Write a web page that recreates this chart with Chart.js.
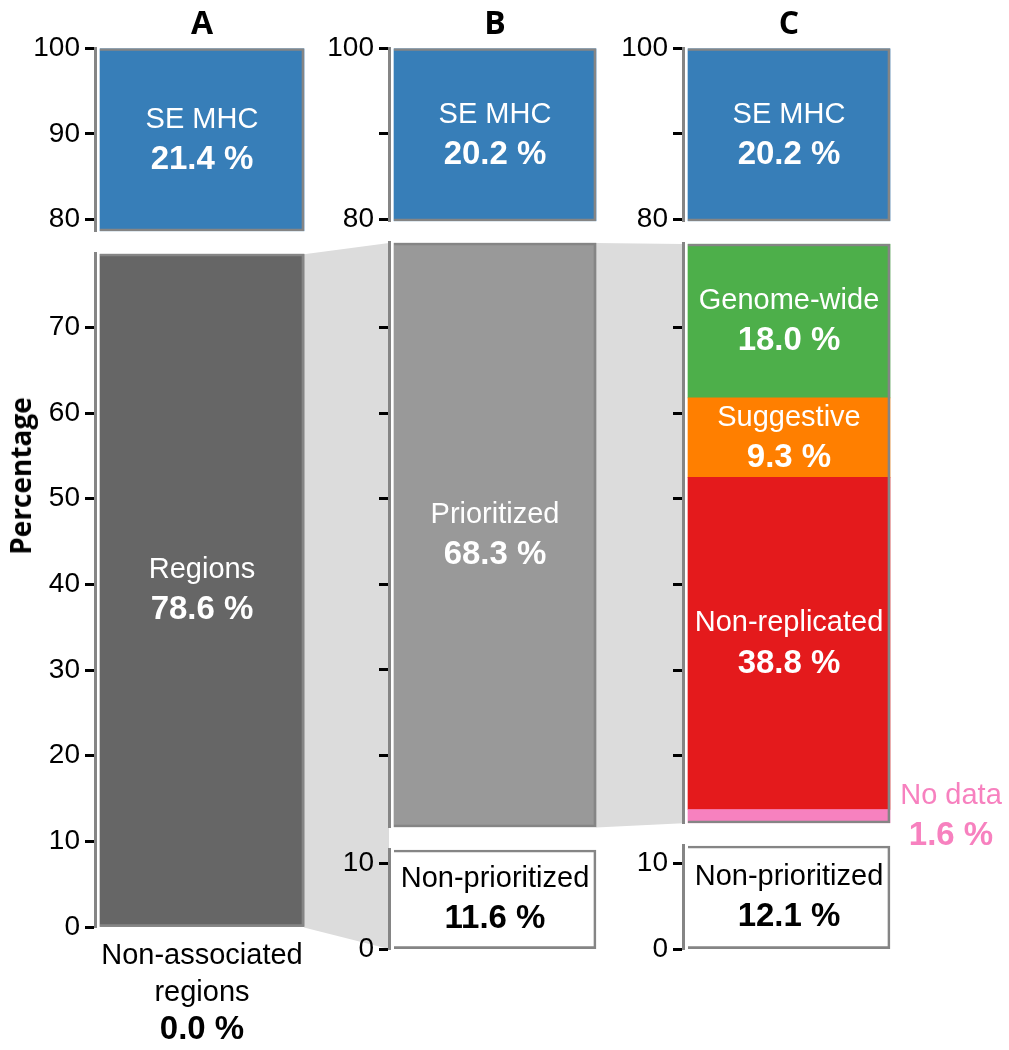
<!DOCTYPE html>
<html>
<head>
<meta charset="utf-8">
<script src="https://cdn.jsdelivr.net/npm/chart.js@4.4.1/dist/chart.umd.min.js"></script>
<style>
  html, body { margin: 0; padding: 0; background: #fff; }
  #stage { position: relative; width: 1009px; height: 1050px; overflow: hidden; }
  #stage canvas { position: absolute; }
  #links { left: 0; top: 0; z-index: 0; }
  .panel { z-index: 1; }
  #ylabel {
    position: absolute; left: 20px; top: 476px; z-index: 2;
    transform: translate(-50%, -50%) rotate(-90deg);
    font: bold 28px 'Open Sans'; color: #000; white-space: nowrap;
  }
</style>
</head>
<body>
<div id="stage">
  <canvas id="links" width="1009" height="1050"></canvas>
  <div id="ylabel">Percentage</div>
</div>
<script>
// values (percentages)
const columns = ['A', 'B', 'C'];
const seMhcValues = [21.4, 20.2, 20.2];
const regionLabels = ['Regions', 'Non-associated regions'];
const regionValues = [78.6, 0.0];
const prioLabels = ['Prioritized', 'Non-prioritized'];
const prioValues = [68.3, 11.6];
const replLabels = ['Genome-wide', 'Suggestive', 'Non-replicated', 'No data'];
const replValues = [18.0, 9.3, 38.8, 1.6];
const nonPrioLabelC = 'Non-prioritized';
const nonPrioValueC = 12.1;
const mainTicks = [0, 10, 20, 30, 40, 50, 60, 70, 80, 90, 100];
const smallTicks = [0, 10];

const BLUE = '#377eb8', GREEN = '#4daf4a', ORANGE = '#ff7f00', RED = '#e41a1c', PINK = '#f781bf';
const DARK = '#666666', MID = '#999999', EDGE = '#858585', LINK = '#dcdcdc';

// layout
const K = 8.56;                       // px per percentage point
const axisX = [95, 389, 683];
const barW = [204, 202, 202];
const GAP = 5;
const AXIS_W = 70;
const bands = {
    top: v => 48 + K * (100 - v),
    main: v => 927 - K * v,
    low: v => 949 - K * v
};

Chart.defaults.font.family = 'Liberation Sans';

const pct = v => v.toFixed(1) + ' %';
const twoLines = (name, v) => [[name, false], [pct(v), true]];

const boxText = {
    id: 'boxText',
    afterDatasetsDraw(chart) {
        const ctx = chart.ctx;
        chart.data.datasets.forEach((ds, i) => {
            if (!ds.text) return;
            const bar = chart.getDatasetMeta(i).data[0];
            const p = bar.getProps(['x', 'y', 'base', 'width'], true);
            let cx = p.x;
            let cy = (p.y + p.base) / 2;
            let step = 40;
            let first;
            if (ds.textPos === 'below') {
                step = 37;
                first = Math.max(p.y, p.base) + 29;
            } else {
                if (ds.textPos === 'right') cx = p.x + p.width / 2 + 61;
                first = cy - step * (ds.text.length - 1) / 2;
            }
            ctx.save();
            ctx.fillStyle = ds.textColor || '#fff';
            ctx.textAlign = 'center';
            ctx.textBaseline = 'middle';
            ds.text.forEach(([t, bold], j) => {
                ctx.font = bold ? 'bold 33px "Liberation Sans"' : '29px "Liberation Sans"';
                ctx.fillText(t, cx, first + j * step);
            });
            ctx.restore();
        });
    }
};

const stage = document.getElementById('stage');
const charts = {};

function makePanel(key, p) {
    const canvas = document.createElement('canvas');
    canvas.className = 'panel';
    const padTop = p.title ? 2 : 20;
    const padBottom = p.padBottom || 20;
    const padRight = p.padRight || 0;
    const wantH = K * (p.hi - p.lo);
    canvas.width = AXIS_W + 2 * GAP + barW[p.col] + padRight;
    canvas.height = Math.round(wantH + padTop + padBottom + (p.title ? 48 : 0));
    stage.appendChild(canvas);

    const common = { barThickness: barW[p.col], grouped: false };
    const datasets = [Object.assign({
        data: [[p.lo, p.hi]],
        backgroundColor: 'rgba(0,0,0,0)',
        borderColor: EDGE,
        borderWidth: { top: 2, right: 2, bottom: 2, left: 0 },
        borderSkipped: false,
        order: 0
    }, common)];
    p.segs.forEach(s => {
        datasets.push(Object.assign({
            label: s.label,
            data: [s.range],
            backgroundColor: s.fill,
            borderWidth: 0,
            order: 1,
            text: s.text,
            textColor: s.textColor,
            textPos: s.textPos
        }, common));
    });

    const chart = new Chart(canvas, {
        type: 'bar',
        data: { labels: [columns[p.col]], datasets: datasets },
        options: {
            responsive: false,
            maintainAspectRatio: false,
            animation: false,
            devicePixelRatio: 1,
            layout: { padding: { top: padTop, bottom: padBottom, left: 0, right: padRight } },
            plugins: {
                legend: { display: false },
                tooltip: { enabled: false },
                title: {
                    display: !!p.title,
                    text: columns[p.col],
                    fullSize: false,
                    color: '#000',
                    font: { family: 'Open Sans', size: 32, weight: 'bold' },
                    padding: { top: 0, bottom: 4 }
                }
            },
            scales: {
                x: { display: false },
                y: {
                    min: p.lo,
                    max: p.hi,
                    afterFit: s => { s.width = AXIS_W; },
                    afterBuildTicks: s => {
                        s.ticks = p.ticks
                            .filter(v => v >= p.lo - 1e-9 && v <= p.hi + 1e-9)
                            .map(v => ({ value: v }));
                    },
                    ticks: {
                        autoSkip: false,
                        padding: 5,
                        color: '#000',
                        font: { size: 28 },
                        callback: v => (p.labelled(v) ? String(v) : '')
                    },
                    grid: {
                        drawOnChartArea: false,
                        drawTicks: true,
                        tickLength: 10,
                        tickWidth: 3,
                        tickColor: '#000'
                    },
                    border: { display: true, color: EDGE, width: 3 }
                }
            }
        },
        plugins: [boxText]
    });

    const area = chart.chartArea;
    const dh = Math.round(wantH - (area.bottom - area.top));
    if (dh !== 0) chart.resize(canvas.width, canvas.height + dh);

    const a = chart.chartArea;
    canvas.style.left = (axisX[p.col] - a.left) + 'px';
    canvas.style.top = (p.band(p.hi) - a.top) + 'px';
    charts[key] = chart;
}

const all = () => true;
const none = () => false;

// column A
makePanel('aTop', {
    col: 0, band: bands.top, lo: 100 - seMhcValues[0], hi: 100, title: true,
    ticks: mainTicks, labelled: all,
    segs: [{ range: [100 - seMhcValues[0], 100], fill: BLUE, text: twoLines('SE MHC', seMhcValues[0]) }]
});
makePanel('aMain', {
    col: 0, band: bands.main, lo: 0, hi: regionValues[0] + regionValues[1],
    ticks: mainTicks, labelled: all, padBottom: 125,
    segs: [
        { range: [regionValues[1], regionValues[1] + regionValues[0]], fill: DARK,
          text: twoLines(regionLabels[0], regionValues[0]) },
        { range: [0, regionValues[1]], fill: 'rgba(0,0,0,0)', textColor: '#000', textPos: 'below',
          text: regionLabels[1].split(' ').map(t => [t, false]).concat([[pct(regionValues[1]), true]]) }
    ]
});

// column B
makePanel('bTop', {
    col: 1, band: bands.top, lo: 100 - seMhcValues[1], hi: 100, title: true,
    ticks: mainTicks, labelled: v => v !== 90,
    segs: [{ range: [100 - seMhcValues[1], 100], fill: BLUE, text: twoLines('SE MHC', seMhcValues[1]) }]
});
makePanel('bMain', {
    col: 1, band: bands.main, lo: prioValues[1], hi: prioValues[1] + prioValues[0],
    ticks: mainTicks, labelled: none,
    segs: [{ range: [prioValues[1], prioValues[1] + prioValues[0]], fill: MID,
             text: twoLines(prioLabels[0], prioValues[0]) }]
});
makePanel('bLow', {
    col: 1, band: bands.low, lo: 0, hi: prioValues[1],
    ticks: smallTicks, labelled: all,
    segs: [{ range: [0, prioValues[1]], fill: '#ffffff', textColor: '#000',
             text: twoLines(prioLabels[1], prioValues[1]) }]
});

// column C
makePanel('cTop', {
    col: 2, band: bands.top, lo: 100 - seMhcValues[2], hi: 100, title: true,
    ticks: mainTicks, labelled: v => v !== 90,
    segs: [{ range: [100 - seMhcValues[2], 100], fill: BLUE, text: twoLines('SE MHC', seMhcValues[2]) }]
});
const replFills = [GREEN, ORANGE, RED, PINK];
const cSegs = [];
let acc = nonPrioValueC;
for (let i = replValues.length - 1; i >= 0; i--) {
    const seg = { range: [acc, acc + replValues[i]], fill: replFills[i],
                  text: twoLines(replLabels[i], replValues[i]) };
    if (replLabels[i] === 'No data') { seg.textPos = 'right'; seg.textColor = PINK; }
    cSegs.push(seg);
    acc += replValues[i];
}
makePanel('cMain', {
    col: 2, band: bands.main, lo: nonPrioValueC, hi: acc,
    ticks: mainTicks, labelled: none, padRight: 125,
    segs: cSegs
});
makePanel('cLow', {
    col: 2, band: bands.low, lo: 0, hi: nonPrioValueC,
    ticks: smallTicks, labelled: all,
    segs: [{ range: [0, nonPrioValueC], fill: '#ffffff', textColor: '#000',
             text: twoLines(nonPrioLabelC, nonPrioValueC) }]
});

// grey links between the columns
function pageY(chart, v) {
    return parseFloat(chart.canvas.style.top) + chart.scales.y.getPixelForValue(v);
}
function barRight(chart) {
    const b = chart.getDatasetMeta(0).data[0];
    return parseFloat(chart.canvas.style.left) + b.x + b.width / 2;
}
function axisLeft(chart) {
    return parseFloat(chart.canvas.style.left) + chart.chartArea.left;
}
function poly(ctx, pts) {
    ctx.beginPath();
    ctx.moveTo(pts[0][0], pts[0][1]);
    pts.slice(1).forEach(q => ctx.lineTo(q[0], q[1]));
    ctx.closePath();
    ctx.fill();
}
const lctx = document.getElementById('links').getContext('2d');
lctx.fillStyle = LINK;
{
    const a = charts.aMain, bm = charts.bMain, bl = charts.bLow, cm = charts.cMain;
    const x0 = barRight(a), x1 = axisLeft(bm);
    poly(lctx, [
        [x0, pageY(a, a.scales.y.max)], [x1, pageY(bm, bm.scales.y.max)],
        [x1, pageY(bl, 0)], [x0, pageY(a, 0)]
    ]);
    const x2 = barRight(bm), x3 = axisLeft(cm);
    poly(lctx, [
        [x2, pageY(bm, bm.scales.y.max)], [x3, pageY(cm, cm.scales.y.max)],
        [x3, pageY(cm, cm.scales.y.min)], [x2, pageY(bm, bm.scales.y.min)]
    ]);
}
</script>
</body>
</html>
